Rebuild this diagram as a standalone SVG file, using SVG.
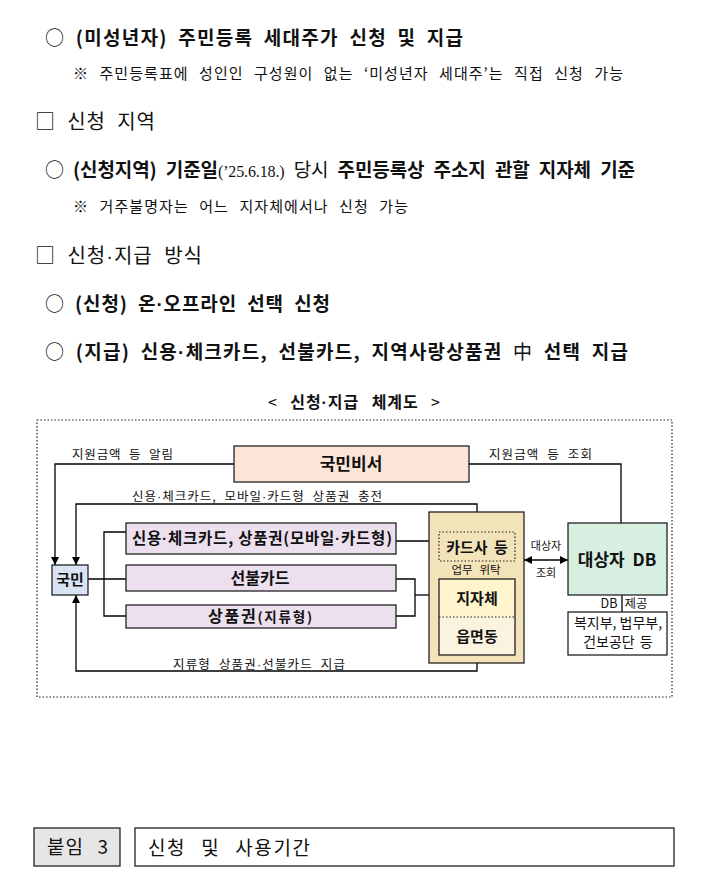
<svg xmlns="http://www.w3.org/2000/svg" width="726" height="892" viewBox="0 0 726 892">
<defs>
<style>
text{font-family:"Noto Sans CJK KR","Noto Sans",sans-serif;fill:#111}
.b{font-weight:bold}
.md{font-family:"Liberation Sans",sans-serif}
.ser{font-family:"Liberation Serif","Noto Sans CJK KR",serif;font-weight:normal}
.main{font-size:19px;word-spacing:5px}
.note{font-size:15px;word-spacing:6px}
.head{font-size:20px;word-spacing:6px}
.lbl{font-size:12.5px;word-spacing:4px}
.ln{fill:none;stroke:#000;stroke-width:1.3}
.bx{stroke:#222;stroke-width:1.3}
.dot{fill:none;stroke:#222;stroke-width:1.2;stroke-dasharray:1.5 2}
.c{text-anchor:middle}
</style>
<marker id="ah" viewBox="0 0 10 10" refX="10" refY="5" markerWidth="8" markerHeight="8" markerUnits="userSpaceOnUse" orient="auto">
<path d="M0,0 L10,5 L0,10 z" fill="#000"/>
</marker>
<marker id="ahs" viewBox="0 0 10 10" refX="10" refY="5" markerWidth="8" markerHeight="8" markerUnits="userSpaceOnUse" orient="auto-start-reverse">
<path d="M0,0 L10,5 L0,10 z" fill="#000"/>
</marker>
</defs>
<rect width="726" height="892" fill="#fff"/>

<!-- text body -->
<text class="main b" x="45" y="45" textLength="418" lengthAdjust="spacing"><tspan font-weight="normal">○</tspan> (미성년자) 주민등록 세대주가 신청 및 지급</text>
<text class="note" x="73" y="79" textLength="550" lengthAdjust="spacing">※ 주민등록표에 성인인 구성원이 없는 ‘미성년자 세대주’는 직접 신청 가능</text>
<text class="head" x="35" y="129" textLength="120" lengthAdjust="spacing">□ 신청 지역</text>
<text class="main" x="45" y="177" font-size="18" textLength="590" lengthAdjust="spacing">○ <tspan class="b">(신청지역) 기준일</tspan><tspan class="ser" font-size="16">(’25.6.18.)</tspan> 당시 <tspan class="b">주민등록상 주소지 관할 지자체 기준</tspan></text>
<text class="note" x="73" y="212" textLength="335" lengthAdjust="spacing">※ 거주불명자는 어느 지자체에서나 신청 가능</text>
<text class="head" x="35" y="263" textLength="167" lengthAdjust="spacing">□ 신청<tspan class="md">·</tspan>지급 방식</text>
<text class="main" x="45" y="311" textLength="285" lengthAdjust="spacing">○ <tspan class="b">(신청) 온<tspan class="md">·</tspan>오프라인 선택 신청</tspan></text>
<text class="main" x="45" y="359" textLength="583" lengthAdjust="spacing">○ <tspan class="b">(지급) 신용<tspan class="md">·</tspan>체크카드, 선불카드, 지역사랑상품권</tspan> 中 <tspan class="b">선택 지급</tspan></text>
<text x="268" y="408" font-size="16" word-spacing="8" textLength="172" lengthAdjust="spacing">&lt; <tspan class="b">신청<tspan class="md">·</tspan>지급 체계도</tspan> &gt;</text>

<!-- diagram frame -->
<rect x="37" y="420" width="635" height="277" class="dot"/>

<!-- connectors -->
<g id="connectors">
<polyline class="ln" points="234,464 55,464 55,565" marker-end="url(#ah)"/>
<polyline class="ln" points="477,512 477,504 76,504 76,565" marker-end="url(#ah)"/>
<polyline class="ln" points="469,464 621,464 621,523"/>
<polyline class="ln" points="477,663 477,671 76,671 76,595" marker-end="url(#ah)"/>
<line class="ln" x1="88" y1="579" x2="126" y2="579"/>
<polyline class="ln" points="126,532 104,532 104,616 126,616"/>
<line class="ln" x1="396" y1="541" x2="439" y2="541"/>
<polyline class="ln" points="396,579 415,579 415,616 396,616"/>
<line class="ln" x1="415" y1="595" x2="439" y2="595"/>
<line class="ln" x1="524" y1="560" x2="568" y2="560" marker-start="url(#ahs)" marker-end="url(#ah)"/>
<line class="ln" x1="622" y1="595" x2="622" y2="612"/>
<line class="dot" x1="477" y1="561" x2="477" y2="579"/>
<text class="lbl" x="72" y="459" textLength="101" lengthAdjust="spacing">지원금액 등 알림</text>
<text class="lbl" x="132" y="501" textLength="250" lengthAdjust="spacing">신용<tspan class="md">·</tspan>체크카드, 모바일<tspan class="md">·</tspan>카드형 상품권 충전</text>
<text class="lbl" x="489" y="459" textLength="103" lengthAdjust="spacing">지원금액 등 조회</text>
<text class="lbl" x="173" y="669" textLength="172" lengthAdjust="spacing">지류형 상품권<tspan class="md">·</tspan>선불카드 지급</text>
<text class="c" x="546" y="550" font-size="11">대상자</text>
<text class="c" x="546" y="577" font-size="11">조회</text>
<text class="c" x="609" y="608" font-size="12.5">DB</text>
<text class="c" x="636" y="608" font-size="12.5">제공</text>
</g>

<g id="n-gukminbiseo">
<rect x="234" y="446" width="235" height="36" fill="#fbe5d6" class="bx"/>
<text class="b c" x="351" y="470" font-size="17">국민비서</text>
</g>

<g id="n-gukmin">
<rect x="52" y="565" width="36" height="30" fill="#dae3f3" class="bx"/>
<text class="b c" x="70" y="585" font-size="15">국민</text>
</g>

<g id="n-card">
<rect x="126" y="523" width="270" height="31" fill="#ece0ef" class="bx"/>
<text class="b" x="132" y="544" font-size="15.5" textLength="260" lengthAdjust="spacing">신용<tspan class="md">·</tspan>체크카드, 상품권(모바일<tspan class="md">·</tspan>카드형)</text>
</g>

<g id="n-prepaid">
<rect x="126" y="565" width="270" height="26" fill="#ece0ef" class="bx"/>
<text class="b c" x="260" y="584" font-size="16">선불카드</text>
</g>

<g id="n-paper">
<rect x="126" y="605" width="270" height="23" fill="#ece0ef" class="bx"/>
<text class="b" x="208" y="622" font-size="16" textLength="104" lengthAdjust="spacing">상품권<tspan font-size="13.5">(지류형)</tspan></text>
</g>

<g id="n-cardco">
<rect x="429" y="512" width="95" height="151" fill="#f2e3b9" class="bx"/>
<rect x="439" y="532" width="76" height="29" fill="#fff6d6" class="dot"/>
<text class="b c" x="477" y="553" font-size="15" word-spacing="3">카드사 등</text>
<text class="c" x="462" y="574" font-size="11.5">업무</text>
<text class="c" x="490" y="574" font-size="11.5">위탁</text>
</g>

<g id="n-local">
<rect x="439" y="579" width="76" height="38" fill="#fff4cc"/>
<rect x="439" y="617" width="76" height="38" fill="#fbf3e0"/>
<rect x="439" y="579" width="76" height="76" fill="none" class="bx"/>
<line class="dot" x1="439" y1="617" x2="515" y2="617"/>
<text class="b c" x="477" y="604" font-size="15">지자체</text>
<text class="b c" x="477" y="642" font-size="15">읍면동</text>
</g>

<g id="n-db">
<rect x="568" y="523" width="99" height="72" fill="#d6efe1" class="bx"/>
<text class="b c" x="617" y="566" font-size="17" word-spacing="4">대상자 DB</text>
</g>

<g id="n-ministry">
<rect x="568" y="612" width="99" height="43" fill="#fff" class="bx"/>
<text class="c" x="618" y="628" font-size="14">복지부, 법무부,</text>
<text class="c" x="618" y="647" font-size="14" word-spacing="2">건보공단 등</text>
</g>

<!-- bottom title -->
<g id="n-attach">
<rect x="34" y="828" width="86" height="38" fill="#e6e6e6" class="bx"/>
<text x="47" y="854" font-size="19" word-spacing="8" textLength="61" lengthAdjust="spacing">붙임 3</text>
</g>
<g id="n-title">
<rect x="135" y="828" width="539" height="38" fill="#fff" class="bx"/>
<text x="148" y="855" font-size="19" word-spacing="9" textLength="162" lengthAdjust="spacing">신청 및 사용기간</text>
</g>
</svg>
